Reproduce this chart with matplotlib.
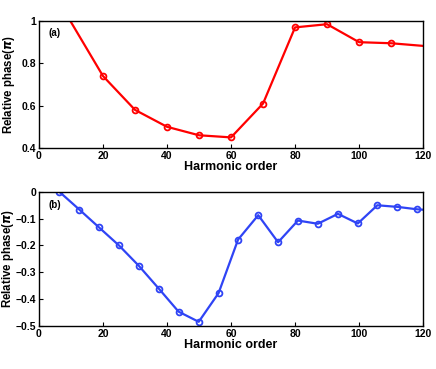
import matplotlib
matplotlib.use('Agg')
import matplotlib.pyplot as plt
import numpy as np

plt.rcParams['font.family'] = ['Liberation Sans', 'DejaVu Sans']
plt.rcParams['font.weight'] = 'bold'
plt.rcParams['mathtext.fontset'] = 'dejavusans'

# panel (a)
order_a = [0, 20, 30, 40, 50, 60, 70, 80, 90, 100, 110, 130]
phase_a = [1.25, 0.74, 0.58, 0.50, 0.46, 0.45, 0.61, 0.97, 0.985, 0.90, 0.895, 0.87]

# panel (b)
order_b = [6.4, 12.6, 18.7, 25.0, 31.2, 37.5, 43.6, 49.9, 56.1, 62.2, 68.5, 74.7,
           80.9, 87.1, 93.4, 99.6, 105.7, 112.0, 118.1, 124.3]
phase_b = [0.0, -0.066, -0.132, -0.200, -0.276, -0.362, -0.447, -0.485, -0.378,
           -0.178, -0.087, -0.188, -0.107, -0.119, -0.082, -0.118, -0.050, -0.056,
           -0.065, -0.070]

fig = plt.figure(figsize=(4.36, 3.69), dpi=100)
ax1 = fig.add_axes([0.0894, 0.599, 0.881, 0.344])
ax2 = fig.add_axes([0.0894, 0.117, 0.881, 0.363])

def style(ax, yticks, ylim, label, ylabelpad):
    ax.set_xlim(0, 120)
    ax.set_ylim(*ylim)
    ax.set_xticks([0, 20, 40, 60, 80, 100, 120])
    ax.set_yticks(yticks)
    ax.tick_params(direction='in', length=3, width=0.8, labelsize=7.5, pad=2)
    for lab in ax.get_xticklabels() + ax.get_yticklabels():
        lab.set_fontweight('bold')
    for s in ax.spines.values():
        s.set_linewidth(1.0)
    ax.set_xlabel('Harmonic order', fontsize=9, fontweight='bold', labelpad=0)
    ax.set_ylabel(r'Relative phase($\pi$)', fontsize=8.3, fontweight='bold',
                  labelpad=ylabelpad)
    ax.text(0.025, 0.88, label, transform=ax.transAxes, fontsize=7, fontweight='bold')

ax1.plot(order_a, phase_a, color='#ff0000', lw=1.6, marker='o', ms=4.2,
         mfc='none', mew=1.3)
style(ax1, [0.4, 0.6, 0.8, 1.0], (0.4, 1.0), '(a)', 3)
ax1.set_yticklabels(['0.4', '0.6', '0.8', '1'])

ax2.plot(order_b, phase_b, color='#2f44f5', lw=1.6, marker='o', ms=4.2,
         mfc='none', mew=1.3)
style(ax2, [-0.5, -0.4, -0.3, -0.2, -0.1, 0], (-0.5, 0), '(b)', 0)
ax2.set_yticklabels(['\u22120.5', '\u22120.4', '\u22120.3', '\u22120.2', '\u22120.1', '0'])

fig.savefig('out.png', dpi=100)
